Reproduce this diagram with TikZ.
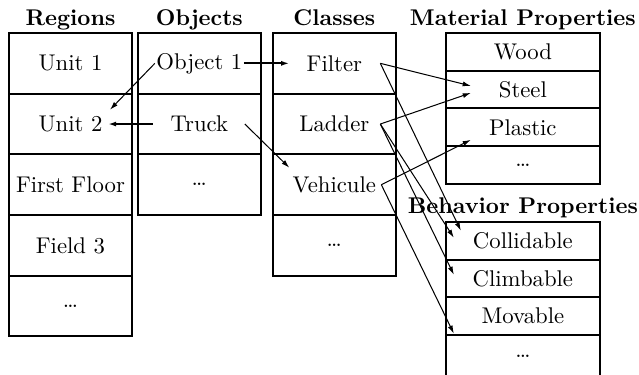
\documentclass[tikz,border=0pt]{standalone}
\usepackage{tikz}
\usetikzlibrary{positioning}
\usetikzlibrary{arrows.meta}
\usetikzlibrary{calc}

\begin{document}
\begin{tikzpicture}[x=0.44pt,y=-0.44pt,>={Latex[length=3.6pt,width=2.2pt]},
	cell/.style={draw,line width=0.9pt,outer sep=0pt,inner sep=0pt,minimum width=54.1pt,minimum height=26.7pt},
	prop/.style={draw,line width=0.9pt,outer sep=0pt,inner sep=0pt,minimum width=67.8pt,minimum height=16.6pt},
	title/.style={font=\bfseries,anchor=base},
	link/.style={->,line width=0.45pt},
	bold link/.style={->,line width=0.9pt}]

	\useasboundingbox (0,0) rectangle (639,374);

	% regions
	\node[cell,anchor=north west] (unit1) at (9,33) {Unit 1};
	\node[cell,below=0pt of unit1] (unit2) {Unit 2};
	\node[cell,below=0pt of unit2] (floor1) {First Floor};
	\node[cell,below=0pt of floor1] (field3) {Field 3};
	\node[cell,below=0pt of field3] (regmore) {\dots};

	% objects
	\node[cell,right=2.6pt of unit1] (object1) {Object 1};
	\node[cell,below=0pt of object1] (truck) {Truck};
	\node[cell,below=0pt of truck] (objmore) {\dots};

	% classes
	\node[cell,right=5.3pt of object1] (filter) {Filter};
	\node[cell,below=0pt of filter] (ladder) {Ladder};
	\node[cell,below=0pt of ladder] (vehicule) {Vehicule};
	\node[cell,below=0pt of vehicule] (clsmore) {\dots};

	% material properties
	\node[prop,right=22pt of filter.north east,anchor=north west] (wood) {Wood};
	\node[prop,below=0pt of wood] (steel) {Steel};
	\node[prop,below=0pt of steel] (plastic) {Plastic};
	\node[prop,below=0pt of plastic] (matmore) {\dots};

	% behavior properties
	\node[prop,below=16.7pt of matmore] (collidable) {Collidable};
	\node[prop,below=0pt of collidable] (climbable) {Climbable};
	\node[prop,below=0pt of climbable] (movable) {Movable};
	\node[prop,below=0pt of movable,minimum height=19pt] (behmore) {\dots};

	\node[above=3.5pt of unit1.north,title] {Regions};
	\node[above=3.5pt of object1.north,title] {Objects};
	\node[above=3.5pt of filter.north,title] {Classes};
	\node[above=3.5pt of wood.north,title] {Material Properties};
	\node[above=3.5pt of collidable.north,title] {Behavior Properties};

	\path[bold link]
		($(object1)+(44.5,0)$) edge ($(filter)+(-45,0)$)
		($(truck)+(-46.5,0)$) edge ($(unit2)+(37.5,0)$);

	\path[link]
		($(object1)+(-44.5,0)$) edge ($(unit2)+(39.5,-14.3)$)
		($(truck)+(45.5,0)$) edge ($(vehicule)+(-45,-17)$)
		($(filter)+(46,0)$) edge ($(steel)+(-52,-3.7)$)
		($(ladder)+(46,0)$) edge ($(steel)+(-52,3.3)$)
		($(vehicule)+(47,0)$) edge ($(plastic)+(-52,12.5)$)
		($(filter)+(46,0)$) edge ($(collidable)+(-62,-10)$)
		($(ladder)+(46,0)$) edge ($(collidable)+(-69,-3)$)
		($(ladder)+(46,0)$) edge ($(climbable)+(-69,-3.7)$)
		($(vehicule)+(47,0)$) edge ($(movable)+(-69,17.5)$);
\end{tikzpicture}
\end{document}
